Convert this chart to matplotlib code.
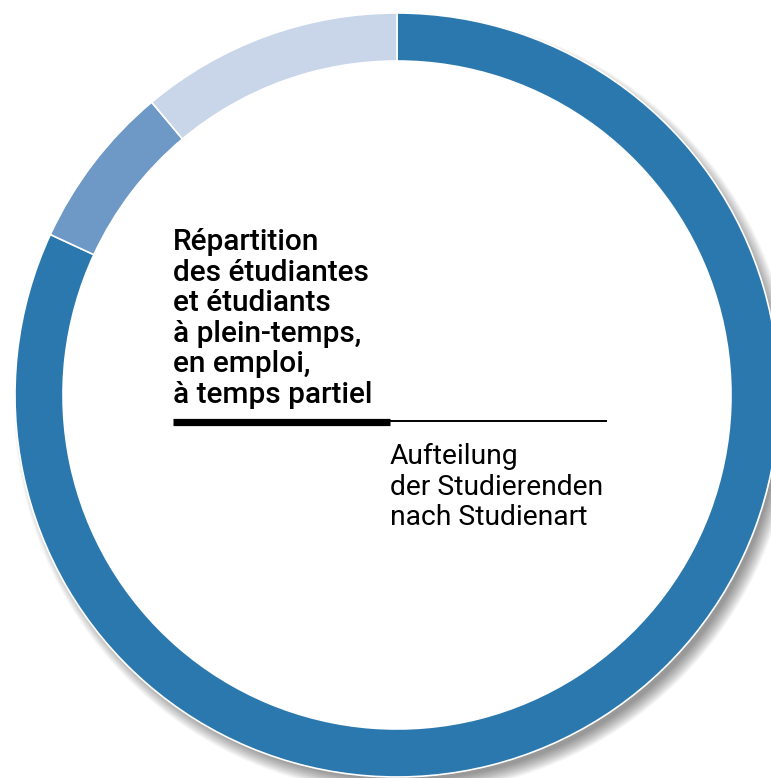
import matplotlib.pyplot as plt
from matplotlib.patches import Wedge

# shares of students (clockwise from 12 o'clock)
categories = ["à plein-temps", "en emploi", "à temps partiel"]
shares = [81.9, 7.0, 11.1]
colors = ["#2b78ae", "#6e98c5", "#c9d5e8"]

title_fr = ["Répartition", "des étudiantes", "et étudiants",
            "à plein-temps,", "en emploi,", "à temps partiel"]
title_de = ["Aufteilung", "der Studierenden", "nach Studienart"]

W, H = 771, 778
fig = plt.figure(figsize=(W / 100, H / 100), dpi=100)
ax = fig.add_axes([0, 0, 1, 1])

cx, cy = 397, H - 395
R, ring = 382, 48

# soft drop shadow behind the ring
for s in range(-6, 9):
    ax.add_patch(Wedge((cx + 7, cy - 9), R + s, 0, 360, width=30,
                       color="black", alpha=0.032, lw=0, zorder=1))

ax.pie(shares, colors=colors, startangle=90, counterclock=False,
       radius=R, center=(cx, cy),
       wedgeprops=dict(width=ring, edgecolor="white", linewidth=1.2, zorder=2))

ax.set_xlim(0, W)
ax.set_ylim(0, H)
ax.set_aspect("auto")
ax.axis("off")

font = "Roboto"
renderer = fig.canvas.get_renderer()


def fit_size(txt, weight, target):
    t = ax.text(0, 0, txt, fontsize=10, family=font, weight=weight)
    w = t.get_window_extent(renderer).width
    t.remove()
    return 10 * target / w


fs_fr = fit_size("à temps partiel", "medium", 200)
fs_de = fit_size("der Studierenden", "normal", 213)

for i, line in enumerate(title_fr):
    ax.text(173, H - (250 + i * 30.6), line, fontsize=fs_fr, family=font,
            weight="medium", va="baseline", ha="left", color="black", zorder=5)

for i, line in enumerate(title_de):
    ax.text(390, H - (464 + i * 30.5), line, fontsize=fs_de, family=font,
            weight="normal", va="baseline", ha="left", color="black", zorder=5)

# divider: thick under French, thin under German
ax.plot([173, 390], [H - 421.5, H - 421.5], color="black", lw=5.2,
        solid_capstyle="butt", zorder=5)
ax.plot([390, 607], [H - 421, H - 421], color="black", lw=1.4,
        solid_capstyle="butt", zorder=5)

fig.savefig("out.png", dpi=100)
